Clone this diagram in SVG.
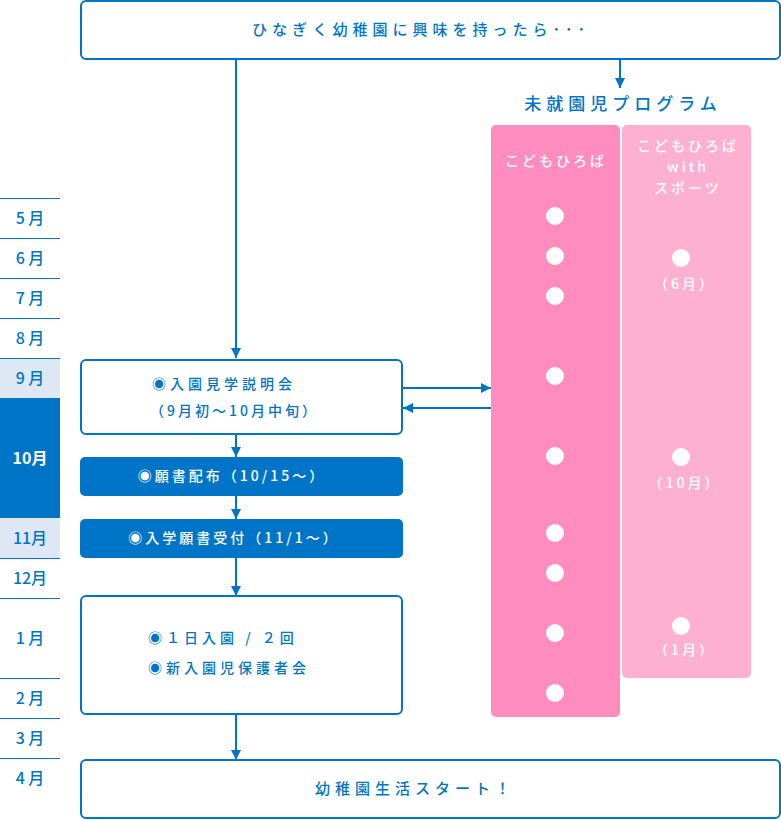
<svg xmlns="http://www.w3.org/2000/svg" width="781" height="820" viewBox="0 0 781 820">
<style>
text{font-family:"Noto Sans CJK JP","Noto Sans",sans-serif;font-weight:500}
.b{fill:#0075c8}
.w{fill:#fff}
.m{font-size:16px;text-anchor:middle;font-weight:bold}
.t{font-size:14px;letter-spacing:3px}
.t4{font-size:14px;letter-spacing:4px}
.h{font-size:15px;letter-spacing:5px;text-anchor:middle}
.box{fill:#fff;stroke:#0075c8;stroke-width:2}
.fbox{fill:#0075c8}
.ln{stroke:#0075c8;stroke-width:2;fill:none}
.sep{stroke:#0075c8;stroke-width:1}
.dot{fill:#fff}
</style>
<defs>
<marker id="ah" viewBox="0 0 10 10" refX="10" refY="5" markerWidth="10" markerHeight="10" markerUnits="userSpaceOnUse" orient="auto">
<path d="M0,0 L10,5 L0,10 z" fill="#0075c8"/>
</marker>
</defs>
<g id="months">
<rect x="0" y="358" width="60" height="40" fill="#dee8f5"/>
<rect x="0" y="398" width="60" height="120" fill="#0075c8"/>
<rect x="0" y="518" width="60" height="40" fill="#dee8f5"/>
<g class="sep">
<line x1="0" y1="198.5" x2="60" y2="198.5"/>
<line x1="0" y1="238.5" x2="60" y2="238.5"/>
<line x1="0" y1="278.5" x2="60" y2="278.5"/>
<line x1="0" y1="318.5" x2="60" y2="318.5"/>
<line x1="0" y1="358.5" x2="60" y2="358.5"/>
<line x1="0" y1="558.5" x2="60" y2="558.5"/>
<line x1="0" y1="598.5" x2="60" y2="598.5"/>
<line x1="0" y1="678.5" x2="60" y2="678.5"/>
<line x1="0" y1="718.5" x2="60" y2="718.5"/>
<line x1="0" y1="758.5" x2="60" y2="758.5"/>
</g>
<g class="b m">
<text x="30" y="224">5 月</text>
<text x="30" y="264">6 月</text>
<text x="30" y="304">7 月</text>
<text x="30" y="344">8 月</text>
<text x="30" y="384">9 月</text>
<text x="30" y="544">11月</text>
<text x="30" y="584">12月</text>
<text x="30" y="644">1 月</text>
<text x="30" y="704">2 月</text>
<text x="30" y="744">3 月</text>
<text x="30" y="784">4 月</text>
</g>
<text class="w m" x="30" y="464">10月</text>
</g>
<g id="start">
<rect class="box" x="81" y="1" width="699" height="58" rx="5"/>
<text class="b h" x="421" y="35">ひなぎく幼稚園に興味を持ったら･･･</text>
</g>
<g id="program">
<text class="b" x="623" y="110" font-size="17" letter-spacing="5" text-anchor="middle">未就園児プログラム</text>
<g id="hiroba">
<rect x="491" y="125" width="129" height="592" rx="5" fill="#fe8cbe"/>
<text class="w t" x="556" y="166" text-anchor="middle">こどもひろば</text>
<circle class="dot" cx="555" cy="216" r="9"/>
<circle class="dot" cx="555" cy="256" r="9"/>
<circle class="dot" cx="555" cy="296" r="9"/>
<circle class="dot" cx="555" cy="376" r="9"/>
<circle class="dot" cx="555" cy="456" r="9"/>
<circle class="dot" cx="555" cy="533" r="9"/>
<circle class="dot" cx="555" cy="573" r="9"/>
<circle class="dot" cx="555" cy="633" r="9"/>
<circle class="dot" cx="555" cy="693" r="9"/>
</g>
<g id="sports">
<rect x="622" y="125" width="129" height="553" rx="5" fill="#feb0d0"/>
<text class="w t" x="688" y="151" text-anchor="middle">こどもひろば</text>
<text class="w t" x="688" y="172" text-anchor="middle">with</text>
<text class="w t" x="688" y="193" text-anchor="middle">スポーツ</text>
<circle class="dot" cx="681" cy="258" r="9"/>
<text class="w t" x="685" y="289" text-anchor="middle">（6月）</text>
<circle class="dot" cx="681" cy="457" r="9"/>
<text class="w t" x="685" y="488" text-anchor="middle">（10月）</text>
<circle class="dot" cx="681" cy="626" r="9"/>
<text class="w t" x="685" y="655" text-anchor="middle">（1月）</text>
</g>
</g>
<g id="setsumeikai">
<rect class="box" x="81" y="360" width="321" height="74" rx="5"/>
<text class="b t4" x="152" y="389">◉入園見学説明会</text>
<text class="b t" x="150" y="416">（9月初～10月中旬）</text>
</g>
<g id="haifu">
<rect class="fbox" x="80" y="457" width="323" height="39" rx="5"/>
<text class="w t" x="232" y="481" text-anchor="middle">◉願書配布（10/15～）</text>
</g>
<g id="uketsuke">
<rect class="fbox" x="80" y="519" width="323" height="39" rx="5"/>
<text class="w t" x="234" y="543" text-anchor="middle">◉入学願書受付（11/1～）</text>
</g>
<g id="nyuen">
<rect class="box" x="81" y="596" width="321" height="118" rx="5"/>
<text class="b t4" x="148" y="643">◉１日入園 / ２回</text>
<text class="b t4" x="148" y="673">◉新入園児保護者会</text>
</g>
<g id="goal">
<rect class="box" x="81" y="760" width="699" height="58" rx="5"/>
<text class="b h" x="415" y="794">幼稚園生活スタート！</text>
</g>
<g id="connectors">
<line class="ln" x1="236" y1="59" x2="236" y2="358" marker-end="url(#ah)"/>
<line class="ln" x1="620" y1="59" x2="620" y2="88" marker-end="url(#ah)"/>
<line class="ln" x1="402" y1="388" x2="491" y2="388" marker-end="url(#ah)"/>
<line class="ln" x1="491" y1="408" x2="403" y2="408" marker-end="url(#ah)"/>
<line class="ln" x1="236" y1="434" x2="236" y2="457" marker-end="url(#ah)"/>
<line class="ln" x1="236" y1="496" x2="236" y2="519" marker-end="url(#ah)"/>
<line class="ln" x1="236" y1="558" x2="236" y2="596" marker-end="url(#ah)"/>
<line class="ln" x1="236" y1="714" x2="236" y2="760" marker-end="url(#ah)"/>
</g>
</svg>
